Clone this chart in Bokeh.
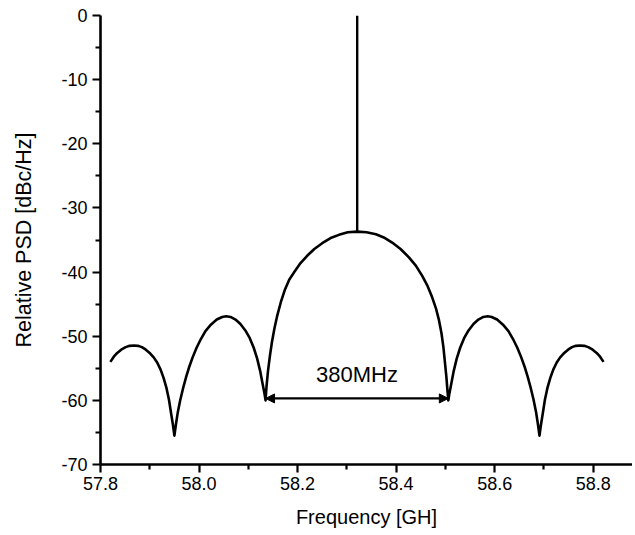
from bokeh.plotting import figure
from bokeh.models import Range1d, Arrow, NormalHead, Label, FixedTicker, NumeralTickFormatter, CustomJSTickFormatter
from bokeh.embed import file_html
from bokeh.resources import INLINE

# ---- data ----
freq_ghz = [
    # outer left side lobe
    57.820, 57.827, 57.834, 57.842, 57.851, 57.859, 57.868, 57.876, 57.884, 57.892,
    57.901, 57.908, 57.915, 57.922, 57.928, 57.934, 57.939, 57.943, 57.947,
    # left side lobe
    57.950, 57.953, 57.957, 57.962, 57.968, 57.974, 57.980, 57.987, 57.995, 58.004,
    58.013, 58.024, 58.036, 58.047, 58.055, 58.064, 58.074, 58.084, 58.094, 58.103,
    58.111, 58.118, 58.124, 58.129, 58.133,
    # main lobe
    58.135, 58.137, 58.140, 58.144, 58.148, 58.153, 58.159, 58.166, 58.174, 58.183,
    58.194, 58.206, 58.219, 58.234, 58.250, 58.267, 58.284, 58.302, 58.321, 58.340,
    58.359, 58.375, 58.392, 58.409, 58.426, 58.440, 58.453, 58.464, 58.473, 58.481,
    58.487, 58.492, 58.496, 58.499, 58.502, 58.504,
    # right side lobe
    58.506, 58.508, 58.512, 58.517, 58.523, 58.530, 58.538, 58.547, 58.557, 58.567,
    58.577, 58.586, 58.594, 58.605, 58.617, 58.628, 58.637, 58.646, 58.654, 58.661,
    58.667, 58.673, 58.679, 58.684, 58.688,
    # outer right side lobe
    58.691, 58.694, 58.698, 58.702, 58.707, 58.713, 58.719, 58.726, 58.733, 58.740,
    58.749, 58.757, 58.765, 58.773, 58.782, 58.790, 58.799, 58.807, 58.814, 58.821,
]
psd_db = [
    -54.0, -53.2, -52.6, -52.1, -51.7, -51.5, -51.45, -51.5, -51.7, -52.1,
    -52.7, -53.3, -54.1, -55.2, -56.5, -58.1, -59.9, -61.9, -63.8,
    -65.5, -63.8, -61.8, -59.9, -58.0, -56.3, -54.8, -53.3, -51.8, -50.4,
    -49.2, -48.2, -47.4, -47.0, -46.9, -47.0, -47.4, -48.1, -49.1, -50.3,
    -51.8, -53.5, -55.4, -57.4, -59.0,
    -60.0, -57.8, -55.4, -53.0, -50.9, -48.8, -46.7, -44.7, -42.8, -41.2,
    -39.9, -38.6, -37.5, -36.4, -35.5, -34.7, -34.2, -33.8, -33.7, -33.8,
    -34.1, -34.6, -35.4, -36.4, -37.7, -39.0, -40.6, -42.2, -43.9, -45.7,
    -47.5, -49.5, -51.7, -54.0, -56.3, -58.3,
    -60.0, -59.0, -57.4, -55.4, -53.5, -51.8, -50.3, -49.1, -48.1, -47.4,
    -47.0, -46.9, -47.0, -47.4, -48.2, -49.2, -50.4, -51.8, -53.3, -54.8,
    -56.3, -58.0, -59.9, -61.8, -63.8,
    -65.5, -63.8, -61.9, -59.9, -58.1, -56.5, -55.2, -54.1, -53.3, -52.7,
    -52.1, -51.7, -51.5, -51.45, -51.5, -51.7, -52.1, -52.6, -53.2, -54.0,
]

carrier_ghz = [58.321, 58.321]
carrier_db = [-33.7, 0.0]

bw_edges_ghz = [58.135, 58.506]
bw_level_db = -59.7
bw_text = "380MHz"

x_ticks = [57.8, 58.0, 58.2, 58.4, 58.6, 58.8]
x_minor = [57.9, 58.1, 58.3, 58.5, 58.7]
y_ticks = [0, -10, -20, -30, -40, -50, -60, -70]
y_minor = [-5, -15, -25, -35, -45, -55, -65]

x_label = "Frequency [GH]"
y_label = "Relative PSD [dBc/Hz]"

FONT = "Liberation Sans"

p = figure(width=632, height=530, output_backend="svg", toolbar_location=None,
           x_range=Range1d(57.8, 58.8798), y_range=Range1d(-70, 0),
           min_border_left=100, min_border_top=15, min_border_right=0, min_border_bottom=66)
p.outline_line_color = None
p.grid.visible = False
p.background_fill_color = "white"
p.border_fill_color = "white"

p.line(freq_ghz, psd_db, line_color="black", line_width=2.6, line_join="round")
p.line(carrier_ghz, carrier_db, line_color="black", line_width=2.4)

p.add_layout(Arrow(start=NormalHead(size=9, fill_color="black", line_color="black"),
                   end=NormalHead(size=9, fill_color="black", line_color="black"),
                   x_start=bw_edges_ghz[0], y_start=bw_level_db,
                   x_end=bw_edges_ghz[1], y_end=bw_level_db,
                   line_color="black", line_width=2.2))
p.add_layout(Label(x=(bw_edges_ghz[0] + bw_edges_ghz[1]) / 2, y=-56.0, text=bw_text,
                   text_align="center", text_baseline="middle",
                   text_font=FONT, text_font_size="22px", text_color="black"))

p.xaxis.ticker = FixedTicker(ticks=x_ticks, minor_ticks=x_minor)
p.yaxis.ticker = FixedTicker(ticks=y_ticks, minor_ticks=y_minor)
p.xaxis.formatter = NumeralTickFormatter(format="0.0")
p.yaxis.formatter = CustomJSTickFormatter(code="return String(tick);")
p.xaxis.axis_label = x_label
p.yaxis.axis_label = y_label

for ax in (p.xaxis, p.yaxis):
    ax.axis_line_width = 2.6
    ax.axis_line_color = "black"
    ax.major_tick_line_width = 2.2
    ax.minor_tick_line_width = 2.2
    ax.major_tick_line_color = "black"
    ax.minor_tick_line_color = "black"
    ax.major_tick_out = 8
    ax.major_tick_in = 0
    ax.minor_tick_out = 5
    ax.minor_tick_in = 0
    ax.major_label_text_font = FONT
    ax.major_label_text_font_size = "18px"
    ax.major_label_text_color = "black"
    ax.axis_label_text_font = FONT
    ax.axis_label_text_font_style = "normal"
    ax.axis_label_text_color = "black"

p.xaxis.axis_label_text_font_size = "20px"
p.yaxis.axis_label_text_font_size = "21.5px"
p.xaxis.major_label_standoff = 4
p.xaxis.axis_label_standoff = 13
p.yaxis.major_label_standoff = 5
p.yaxis.axis_label_standoff = 22

open("out.html", "w").write(file_html(p, INLINE))
